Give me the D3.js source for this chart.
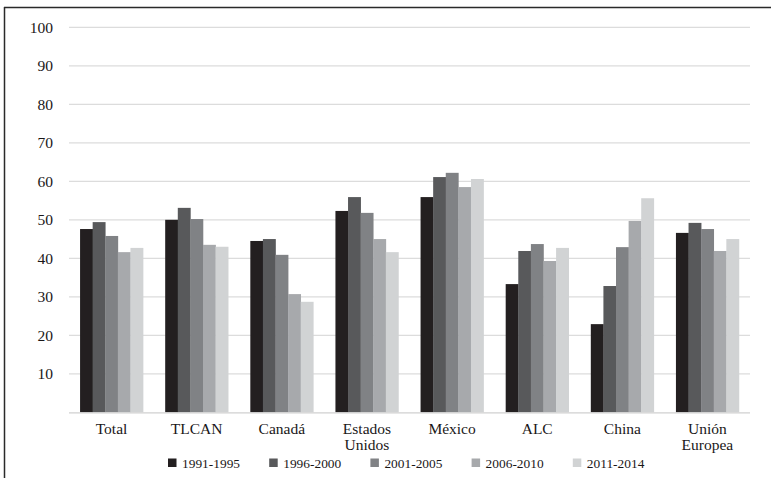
<!DOCTYPE html>
<html>
<head>
<meta charset="utf-8">
<script src="https://cdn.jsdelivr.net/npm/d3@7"></script>
<style>
  html, body { margin: 0; padding: 0; background: #fff; }
  svg { display: block; }
</style>
</head>
<body>
<svg id="chart" width="771" height="478"></svg>
<script>
const categories = ["Total", "TLCAN", "Canadá", "Estados Unidos", "México", "ALC", "China", "Unión Europea"];
const categoryLines = [["Total"], ["TLCAN"], ["Canadá"], ["Estados", "Unidos"], ["México"], ["ALC"], ["China"], ["Unión", "Europea"]];
const seriesNames = ["1991-1995", "1996-2000", "2001-2005", "2006-2010", "2011-2014"];
const s1991 = [47.6, 50.0, 44.5, 52.3, 55.9, 33.3, 22.9, 46.6];
const s1996 = [49.4, 53.1, 45.0, 55.9, 61.1, 41.9, 32.8, 49.2];
const s2001 = [45.8, 50.2, 40.9, 51.8, 62.2, 43.7, 42.9, 47.6];
const s2006 = [41.6, 43.5, 30.7, 45.0, 58.5, 39.3, 49.7, 41.9];
const s2011 = [42.7, 43.0, 28.7, 41.6, 60.6, 42.7, 55.6, 45.0];
const yTicks = [10, 20, 30, 40, 50, 60, 70, 80, 90, 100];

const seriesValues = [s1991, s1996, s2001, s2006, s2011];
const colors = ["#231f20", "#58595b", "#808285", "#a7a9ac", "#d1d3d4"];
const font = "'Liberation Serif', 'DejaVu Serif', serif";
const textColor = "#1a1718";

const svg = d3.select("#chart");

// frame (top and left edges)
svg.append("line").attr("x1", 4).attr("x2", 771).attr("y1", 7.5).attr("y2", 7.5)
  .attr("stroke", "#2a2a2a").attr("stroke-width", 1.5);
svg.append("line").attr("x1", 4.5).attr("x2", 4.5).attr("y1", 7).attr("y2", 478)
  .attr("stroke", "#2a2a2a").attr("stroke-width", 1.5);

const x0 = 69, x1 = 750, yTop = 27.3, yBase = 412.3;
const x = d3.scaleBand().domain(categories).range([x0, x1]).paddingInner(0.26).paddingOuter(0.13);
const xs = d3.scaleBand().domain(seriesNames).range([0, x.bandwidth()]);
const y = d3.scaleLinear().domain([0, 100]).range([yBase, yTop]);

// gridlines
svg.append("g").selectAll("line").data(yTicks).join("line")
  .attr("x1", x0).attr("x2", x1)
  .attr("y1", d => y(d)).attr("y2", d => y(d))
  .attr("stroke", "#dcdcdc").attr("stroke-width", 1.2);

// y tick labels
svg.append("g").selectAll("text").data(yTicks).join("text")
  .attr("x", 53).attr("y", d => y(d)).attr("dy", "0.35em")
  .attr("text-anchor", "end")
  .attr("font-family", font).attr("font-size", 15.5).attr("fill", textColor)
  .text(d => d);

// bars
const groups = svg.append("g").selectAll("g").data(categories).join("g")
  .attr("transform", d => `translate(${x(d)},0)`);
groups.selectAll("rect").data((d, i) => seriesNames.map((s, j) => ({ s, v: seriesValues[j][i], j })))
  .join("rect")
  .attr("x", d => xs(d.s))
  .attr("width", xs.bandwidth() + 0.3)
  .attr("y", d => y(d.v))
  .attr("height", d => yBase - y(d.v))
  .attr("fill", d => colors[d.j]);

// baseline
svg.append("line").attr("x1", x0).attr("x2", x1).attr("y1", yBase + 0.5).attr("y2", yBase + 0.5)
  .attr("stroke", "#d0d0d0").attr("stroke-width", 1.2);

// category labels (one text element per line)
const labelData = [];
categories.forEach((c, i) => {
  categoryLines[i].forEach((line, k) => labelData.push({ c, line, k }));
});
svg.append("g").selectAll("text").data(labelData).join("text")
  .attr("x", d => x(d.c) + x.bandwidth() / 2)
  .attr("y", d => 433.5 + d.k * 16.8)
  .attr("text-anchor", "middle")
  .attr("font-family", font).attr("font-size", 15.5).attr("fill", textColor)
  .text(d => d.line);

// legend
const legend = svg.append("g").selectAll("g").data(seriesNames).join("g")
  .attr("transform", (d, i) => `translate(${168 + i * 101.2},458.5)`);
legend.append("rect").attr("width", 8.5).attr("height", 8.5).attr("fill", (d, i) => colors[i]);
legend.append("text").attr("x", 14).attr("y", 4.3).attr("dy", "0.35em")
  .attr("font-family", font).attr("font-size", 13.4).attr("fill", textColor)
  .text(d => d);
</script>
</body>
</html>
